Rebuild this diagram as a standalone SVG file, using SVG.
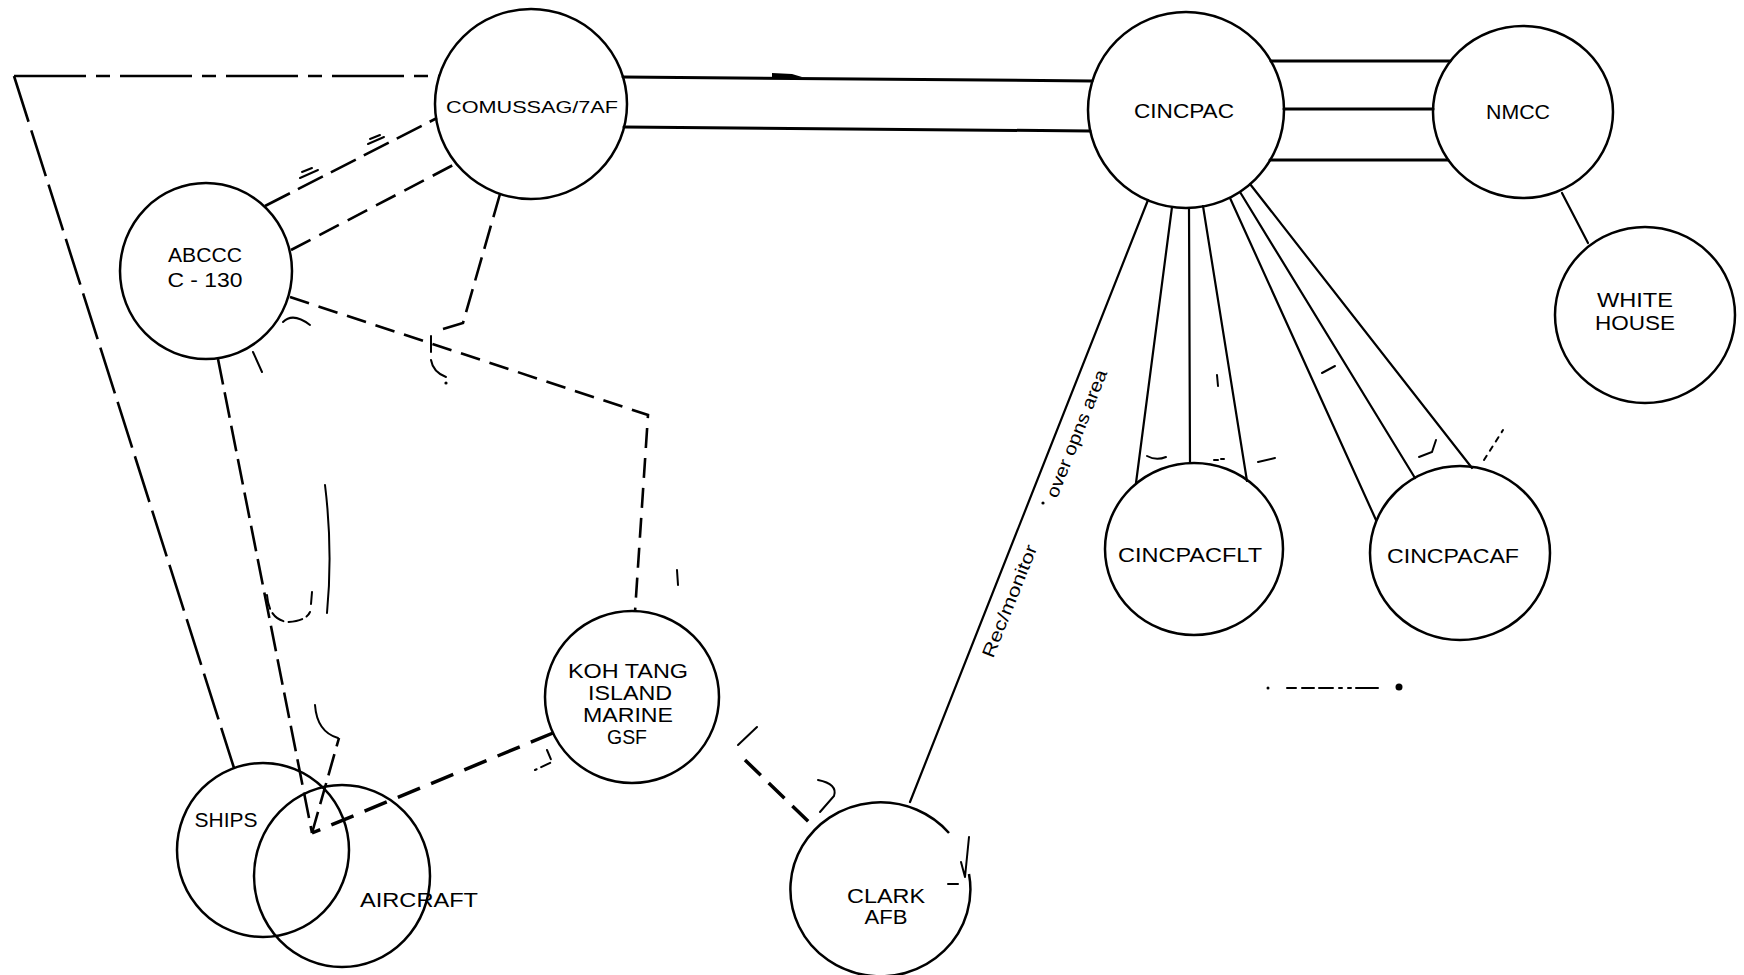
<svg xmlns="http://www.w3.org/2000/svg" width="1744" height="975" viewBox="0 0 1744 975">
<style>
.node{fill:none;stroke:#000;stroke-width:2.5}
.lbl{font-family:"Liberation Sans",Arial,sans-serif;font-size:20px;fill:#000;text-anchor:middle}
.sm{font-size:17px}
.solid{fill:none;stroke:#000;stroke-width:3;stroke-linecap:round}
.fan{fill:none;stroke:#000;stroke-width:2.2;stroke-linecap:round}
.dash{fill:none;stroke:#000;stroke-width:2.6}
.heavy{fill:none;stroke:#000;stroke-width:3.5}
.mark{fill:none;stroke:#000;stroke-width:2;stroke-linecap:round}
.rot{font-family:"Liberation Sans",Arial,sans-serif;font-size:18px;fill:#000}
</style>
<rect width="1744" height="975" fill="#fff"/>

<g id="connectors">
  <!-- COMUSSAG to CINCPAC -->
  <line class="solid" x1="623" y1="77" x2="1092" y2="81"/>
  <line class="solid" x1="624" y1="127" x2="1090" y2="131"/>
  <!-- CINCPAC to NMCC -->
  <line class="solid" x1="1271" y1="61" x2="1450" y2="61"/>
  <line class="solid" x1="1284" y1="109" x2="1433" y2="109"/>
  <line class="solid" x1="1270" y1="160" x2="1448" y2="160"/>
  <!-- NMCC to WHITE HOUSE -->
  <line class="fan" x1="1562" y1="193" x2="1588" y2="243"/>
  <!-- CINCPAC fan -->
  <line class="fan" x1="1148" y1="200" x2="910" y2="802"/>
  <line class="fan" x1="1172" y1="207" x2="1136" y2="483"/>
  <line class="fan" x1="1189" y1="208" x2="1190" y2="463"/>
  <line class="fan" x1="1203" y1="206" x2="1247" y2="481"/>
  <line class="fan" x1="1230" y1="198" x2="1376" y2="520"/>
  <line class="fan" x1="1240" y1="192" x2="1415" y2="478"/>
  <line class="fan" x1="1250" y1="184" x2="1472" y2="468"/>
  <!-- dash-dot frame -->
  <line class="dash" x1="14" y1="76" x2="439" y2="76" stroke-width="3" stroke-dasharray="72 10 14 10"/>
  <line class="dash" x1="14" y1="76" x2="234" y2="768" stroke-width="2.2" stroke-dasharray="48 9"/>
  <!-- ABCCC to COMUSSAG -->
  <line class="dash" x1="265" y1="206" x2="437" y2="118" stroke-width="3" stroke-dasharray="28 9"/>
  <line class="dash" x1="291" y1="250" x2="457" y2="163" stroke-width="3" stroke-dasharray="22 10"/>
  <!-- ABCCC to KOH TANG -->
  <polyline class="dash" points="290,297 648,415 635,612" stroke-width="3" stroke-dasharray="20 10"/>
  <!-- COMUSSAG downward -->
  <polyline class="dash" points="500,194 463,323 443,329" stroke-width="2.4" stroke-dasharray="24 9"/>
  <!-- ABCCC to ships/aircraft -->
  <line class="dash" x1="218" y1="359" x2="312" y2="833" stroke-width="2.2" stroke-dasharray="26 8"/>
  <!-- KOH TANG to aircraft -->
  <line class="heavy" x1="553" y1="733" x2="312" y2="833" stroke-dasharray="24 12"/>
  <line class="dash" x1="312" y1="833" x2="339" y2="738" stroke-width="2.2" stroke-dasharray="22 8"/>
  <!-- KOH TANG to CLARK -->
  <line class="heavy" x1="745" y1="760" x2="812" y2="825" stroke-dasharray="22 11"/>
</g>

<g id="marks">
  <polygon points="772,73 792,74 802,77 772,79" fill="#000"/>
  <line class="mark" x1="300" y1="178" x2="318" y2="170"/>
  <line class="mark" x1="302" y1="172" x2="312" y2="168"/>
  <line class="mark" x1="368" y1="144" x2="384" y2="137"/>
  <line class="mark" x1="370" y1="139" x2="380" y2="135"/>
  <path class="mark" d="M283,322 Q293,312 310,325"/>
  <line class="mark" x1="253" y1="352" x2="262" y2="372"/>
  <line class="mark" x1="431" y1="336" x2="431" y2="352"/>
  <path class="mark" d="M431,360 Q433,372 446,377"/>
  <circle cx="446" cy="383" r="1.6" fill="#000"/>
  <path class="mark" d="M325,485 Q333,550 327,613"/>
  <path class="mark" d="M267,595 Q269,620 288,622 Q306,621 310,612 M311,604 L312,592" stroke-dasharray="14 5"/>
  <path class="mark" d="M315,705 Q317,732 338,738"/>
  <line class="mark" x1="677" y1="570" x2="678" y2="585" stroke-width="2.5"/>
  <path class="mark" d="M547,750 L552,762 L535,770" stroke-dasharray="10 5"/>
  <line class="mark" x1="757" y1="727" x2="738" y2="745"/>
  <path class="mark" d="M818,780 Q838,784 834,796 L820,812"/>
  <path class="mark" d="M969,837 L965,877 M961,862 L965,877"/>
  <line class="mark" x1="948" y1="884" x2="958" y2="884"/>
  <path class="mark" d="M1147,456 Q1156,461 1166,457"/>
  <line class="mark" x1="1214" y1="460" x2="1218" y2="460"/>
  <line class="mark" x1="1221" y1="459" x2="1224" y2="459"/>
  <line class="mark" x1="1258" y1="462" x2="1275" y2="458"/>
  <line class="mark" x1="1217" y1="375" x2="1218" y2="386"/>
  <line class="mark" x1="1322" y1="373" x2="1335" y2="366"/>
  <path class="mark" d="M1436,440 L1432,452 L1419,457"/>
  <line class="mark" x1="1484" y1="460" x2="1503" y2="430" stroke-dasharray="5 6" stroke-width="1.6"/>
  <line class="mark" x1="1287" y1="688" x2="1378" y2="688" stroke-dasharray="9 6 12 5 14 6 3 6 3 5 16 0"/>
  <circle cx="1268" cy="688" r="1.5" fill="#000"/>
  <circle cx="1399" cy="687" r="3.5" fill="#000"/>
  <circle cx="1043" cy="503" r="1.6" fill="#000"/>
</g>

<g id="comussag">
  <ellipse class="node" cx="531" cy="104" rx="96" ry="95"/>
  <text class="lbl sm" x="532" y="113" textLength="172" lengthAdjust="spacingAndGlyphs">COMUSSAG/7AF</text>
</g>
<g id="abccc">
  <ellipse class="node" cx="206" cy="271" rx="86" ry="88"/>
  <text class="lbl" x="205" y="262" textLength="74" lengthAdjust="spacingAndGlyphs">ABCCC</text>
  <text class="lbl" x="205" y="287" textLength="75" lengthAdjust="spacingAndGlyphs">C - 130</text>
</g>
<g id="cincpac">
  <ellipse class="node" cx="1186" cy="110" rx="98" ry="98"/>
  <text class="lbl" x="1184" y="118" textLength="100" lengthAdjust="spacingAndGlyphs">CINCPAC</text>
</g>
<g id="nmcc">
  <ellipse class="node" cx="1523" cy="112" rx="90" ry="86"/>
  <text class="lbl" x="1518" y="119" textLength="64" lengthAdjust="spacingAndGlyphs">NMCC</text>
</g>
<g id="white-house">
  <ellipse class="node" cx="1645" cy="315" rx="90" ry="88"/>
  <text class="lbl" x="1635" y="307" textLength="76" lengthAdjust="spacingAndGlyphs">WHITE</text>
  <text class="lbl" x="1635" y="330" textLength="80" lengthAdjust="spacingAndGlyphs">HOUSE</text>
</g>
<g id="cincpacflt">
  <ellipse class="node" cx="1194" cy="549" rx="89" ry="86"/>
  <text class="lbl" x="1190" y="562" textLength="144" lengthAdjust="spacingAndGlyphs">CINCPACFLT</text>
</g>
<g id="cincpacaf">
  <ellipse class="node" cx="1460" cy="553" rx="90" ry="87"/>
  <text class="lbl" x="1453" y="563" textLength="132" lengthAdjust="spacingAndGlyphs">CINCPACAF</text>
</g>
<g id="koh-tang">
  <ellipse class="node" cx="632" cy="697" rx="87" ry="86"/>
  <text class="lbl" x="628" y="678" textLength="120" lengthAdjust="spacingAndGlyphs">KOH TANG</text>
  <text class="lbl" x="630" y="700" textLength="84" lengthAdjust="spacingAndGlyphs">ISLAND</text>
  <text class="lbl" x="628" y="722" textLength="90" lengthAdjust="spacingAndGlyphs">MARINE</text>
  <text class="lbl" x="627" y="744" textLength="40" lengthAdjust="spacingAndGlyphs">GSF</text>
</g>
<g id="clark-afb">
  <path class="node" d="M949,833 A90,87 0 1 0 969,874"/>
  <text class="lbl" x="886" y="903" textLength="78" lengthAdjust="spacingAndGlyphs">CLARK</text>
  <text class="lbl" x="886" y="924" textLength="43" lengthAdjust="spacingAndGlyphs">AFB</text>
</g>
<g id="ships">
  <ellipse class="node" cx="263" cy="850" rx="86" ry="87"/>
  <text class="lbl" x="226" y="827" textLength="63" lengthAdjust="spacingAndGlyphs">SHIPS</text>
</g>
<g id="aircraft">
  <ellipse class="node" cx="342" cy="876" rx="88" ry="91"/>
  <text class="lbl" x="419" y="907" textLength="118" lengthAdjust="spacingAndGlyphs">AIRCRAFT</text>
</g>

<g id="clark-link-label">
  <text class="rot" transform="translate(993,659) rotate(-68.2)" textLength="120" lengthAdjust="spacingAndGlyphs">Rec/monitor</text>
  <text class="rot" transform="translate(1057,499) rotate(-68.2)" textLength="136" lengthAdjust="spacingAndGlyphs">over opns area</text>
</g>
</svg>
